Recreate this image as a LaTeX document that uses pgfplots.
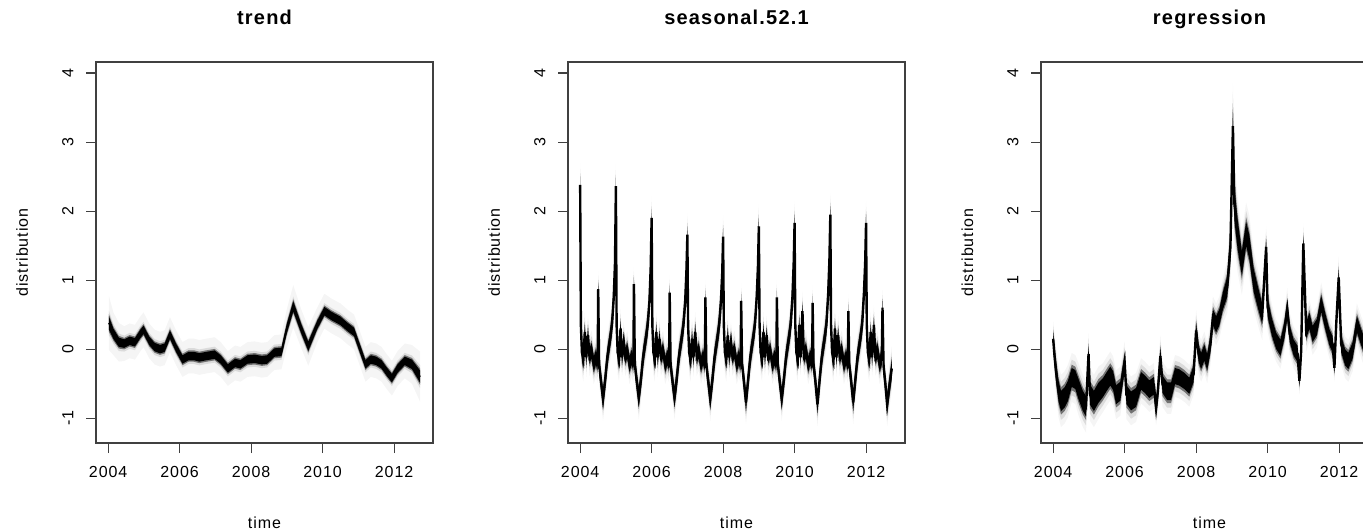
\documentclass[border=0pt]{standalone}
\usepackage{fontspec}
\setmainfont{Liberation Sans}[LetterSpace=6]
\usepackage{pgfplots}
\pgfplotsset{compat=1.18}
\usepackage{pgfplotstable}
\usepgfplotslibrary{fillbetween}

\pgfplotstableread{
t m w
2004.02 0.38 0.14
2004.15 0.22 0.11
2004.30 0.10 0.10
2004.45 0.08 0.09
2004.60 0.12 0.09
2004.75 0.10 0.09
2004.90 0.22 0.09
2004.99 0.28 0.09
2005.15 0.12 0.09
2005.30 0.03 0.09
2005.45 0.00 0.09
2005.58 0.02 0.09
2005.73 0.21 0.09
2005.90 0.02 0.09
2006.08 -0.15 0.09
2006.25 -0.10 0.09
2006.40 -0.10 0.09
2006.55 -0.12 0.09
2006.75 -0.10 0.09
2006.98 -0.08 0.09
2007.15 -0.15 0.09
2007.35 -0.28 0.09
2007.55 -0.20 0.09
2007.70 -0.22 0.09
2007.90 -0.15 0.09
2008.10 -0.14 0.09
2008.30 -0.16 0.09
2008.45 -0.15 0.09
2008.65 -0.05 0.09
2008.85 -0.04 0.09
2009.00 0.30 0.10
2009.18 0.62 0.11
2009.40 0.30 0.10
2009.60 0.04 0.10
2009.85 0.35 0.09
2010.05 0.55 0.09
2010.25 0.48 0.09
2010.50 0.41 0.09
2010.70 0.32 0.09
2010.88 0.25 0.09
2011.05 0.00 0.09
2011.20 -0.22 0.09
2011.35 -0.15 0.09
2011.50 -0.17 0.09
2011.65 -0.22 0.09
2011.80 -0.33 0.09
2011.94 -0.42 0.09
2012.10 -0.28 0.09
2012.30 -0.17 0.09
2012.50 -0.22 0.10
2012.73 -0.40 0.13
}\trendtbl

\pgfplotstableread{
t m w
2004.000 2.38 0.10
2004.020 0.35 0.10
2004.050 -0.05 0.10
2004.090 -0.15 0.10
2004.130 0.25 0.09
2004.170 -0.12 0.09
2004.220 0.20 0.09
2004.260 -0.10 0.09
2004.320 -0.02 0.09
2004.380 -0.22 0.09
2004.440 -0.12 0.09
2004.490 -0.20 0.09
2004.505 0.87 0.08
2004.530 -0.22 0.09
2004.580 -0.45 0.09
2004.640 -0.72 0.10
2004.700 -0.45 0.10
2004.760 -0.12 0.10
2004.830 0.12 0.10
2004.890 0.35 0.11
2004.940 0.75 0.12
2004.975 1.25 0.13
2005.000 2.36 0.10
2005.020 0.35 0.10
2005.050 -0.05 0.10
2005.090 -0.15 0.10
2005.130 0.30 0.09
2005.170 -0.12 0.09
2005.220 0.10 0.09
2005.260 -0.10 0.09
2005.320 -0.02 0.09
2005.380 -0.22 0.09
2005.440 -0.12 0.09
2005.490 -0.20 0.09
2005.505 0.94 0.08
2005.530 -0.22 0.09
2005.580 -0.45 0.09
2005.640 -0.70 0.10
2005.700 -0.45 0.10
2005.760 -0.12 0.10
2005.830 0.12 0.10
2005.890 0.35 0.11
2005.940 0.70 0.12
2005.975 1.20 0.13
2006.000 1.90 0.10
2006.020 0.35 0.10
2006.050 -0.05 0.10
2006.090 -0.15 0.10
2006.130 0.25 0.09
2006.170 -0.12 0.09
2006.220 0.15 0.09
2006.260 -0.10 0.09
2006.320 -0.02 0.09
2006.380 -0.22 0.09
2006.440 -0.12 0.09
2006.490 -0.20 0.09
2006.505 0.82 0.08
2006.530 -0.22 0.09
2006.580 -0.45 0.09
2006.640 -0.70 0.10
2006.700 -0.45 0.10
2006.760 -0.12 0.10
2006.830 0.12 0.10
2006.890 0.35 0.11
2006.940 0.70 0.12
2006.975 1.15 0.13
2007.000 1.66 0.10
2007.020 0.35 0.10
2007.050 -0.05 0.10
2007.090 -0.15 0.10
2007.130 0.15 0.09
2007.170 -0.12 0.09
2007.220 0.25 0.09
2007.260 -0.10 0.09
2007.320 -0.02 0.09
2007.380 -0.22 0.09
2007.440 -0.12 0.09
2007.490 -0.20 0.09
2007.505 0.75 0.08
2007.530 -0.22 0.09
2007.580 -0.45 0.09
2007.640 -0.72 0.10
2007.700 -0.45 0.10
2007.760 -0.12 0.10
2007.830 0.12 0.10
2007.890 0.35 0.11
2007.940 0.70 0.12
2007.975 1.10 0.13
2008.000 1.63 0.10
2008.020 0.35 0.10
2008.050 -0.05 0.10
2008.090 -0.15 0.10
2008.130 0.20 0.09
2008.170 -0.12 0.09
2008.220 0.10 0.09
2008.260 -0.10 0.09
2008.320 -0.02 0.09
2008.380 -0.22 0.09
2008.440 -0.12 0.09
2008.490 -0.20 0.09
2008.505 0.70 0.08
2008.530 -0.22 0.09
2008.580 -0.45 0.09
2008.640 -0.77 0.10
2008.700 -0.45 0.10
2008.760 -0.12 0.10
2008.830 0.12 0.10
2008.890 0.35 0.11
2008.940 0.75 0.12
2008.975 1.20 0.13
2009.000 1.78 0.10
2009.020 0.35 0.10
2009.050 -0.05 0.10
2009.090 -0.15 0.10
2009.130 0.25 0.09
2009.170 -0.12 0.09
2009.220 0.20 0.09
2009.260 -0.10 0.09
2009.320 -0.02 0.09
2009.380 -0.22 0.09
2009.440 -0.12 0.09
2009.490 -0.20 0.09
2009.505 0.75 0.08
2009.530 -0.22 0.09
2009.580 -0.45 0.09
2009.640 -0.72 0.10
2009.700 -0.45 0.10
2009.760 -0.12 0.10
2009.830 0.12 0.10
2009.890 0.35 0.11
2009.940 0.75 0.12
2009.975 1.25 0.13
2010.000 1.83 0.10
2010.020 0.35 0.10
2010.050 -0.05 0.10
2010.090 -0.15 0.10
2010.130 0.35 0.09
2010.170 -0.12 0.09
2010.220 0.55 0.09
2010.260 -0.10 0.09
2010.320 -0.02 0.09
2010.380 -0.22 0.09
2010.440 -0.12 0.09
2010.490 -0.20 0.09
2010.505 0.67 0.08
2010.530 -0.22 0.09
2010.580 -0.45 0.09
2010.640 -0.80 0.10
2010.700 -0.45 0.10
2010.760 -0.12 0.10
2010.830 0.12 0.10
2010.890 0.35 0.11
2010.940 0.80 0.12
2010.975 1.30 0.13
2011.000 1.95 0.10
2011.020 0.35 0.10
2011.050 -0.05 0.10
2011.090 -0.15 0.10
2011.130 0.30 0.09
2011.170 -0.12 0.09
2011.220 0.20 0.09
2011.260 -0.10 0.09
2011.320 -0.02 0.09
2011.380 -0.22 0.09
2011.440 -0.12 0.09
2011.490 -0.20 0.09
2011.505 0.55 0.08
2011.530 -0.22 0.09
2011.580 -0.45 0.09
2011.640 -0.77 0.10
2011.700 -0.45 0.10
2011.760 -0.12 0.10
2011.830 0.12 0.10
2011.890 0.35 0.11
2011.940 0.80 0.12
2011.975 1.25 0.13
2012.000 1.83 0.10
2012.020 0.35 0.10
2012.050 -0.05 0.10
2012.090 -0.15 0.10
2012.130 0.25 0.09
2012.170 -0.12 0.09
2012.220 0.35 0.09
2012.260 -0.10 0.09
2012.320 -0.02 0.09
2012.380 -0.22 0.09
2012.440 -0.12 0.09
2012.460 0.60 0.08
2012.490 -0.25 0.09
2012.540 -0.50 0.09
2012.590 -0.80 0.10
2012.650 -0.55 0.10
2012.720 -0.28 0.10
}\seasontbl

\pgfplotstableread{
t m w
2004.00 0.15 0.10
2004.03 -0.05 0.12
2004.08 -0.32 0.14
2004.15 -0.61 0.15
2004.22 -0.75 0.15
2004.32 -0.70 0.15
2004.41 -0.61 0.15
2004.52 -0.41 0.14
2004.62 -0.44 0.14
2004.71 -0.58 0.15
2004.83 -0.75 0.15
2004.92 -0.83 0.15
2004.99 -0.07 0.12
2005.03 -0.66 0.15
2005.14 -0.75 0.15
2005.27 -0.63 0.15
2005.39 -0.56 0.14
2005.51 -0.46 0.14
2005.60 -0.39 0.14
2005.68 -0.46 0.14
2005.76 -0.66 0.14
2005.88 -0.61 0.14
2006.00 -0.19 0.12
2006.05 -0.66 0.14
2006.18 -0.75 0.14
2006.32 -0.70 0.14
2006.46 -0.46 0.13
2006.57 -0.51 0.13
2006.69 -0.58 0.13
2006.82 -0.53 0.13
2006.88 -0.85 0.10
2006.93 -0.61 0.13
2007.00 -0.10 0.12
2007.06 -0.51 0.13
2007.19 -0.61 0.13
2007.30 -0.61 0.13
2007.41 -0.39 0.12
2007.53 -0.41 0.12
2007.67 -0.46 0.12
2007.81 -0.53 0.12
2007.93 -0.36 0.12
2008.00 0.27 0.12
2008.07 -0.07 0.12
2008.14 -0.17 0.12
2008.23 -0.05 0.12
2008.31 -0.19 0.12
2008.40 0.07 0.12
2008.47 0.46 0.12
2008.56 0.36 0.12
2008.65 0.46 0.12
2008.75 0.70 0.13
2008.87 0.90 0.15
2008.96 1.48 0.20
2009.03 3.23 0.25
2009.07 2.11 0.25
2009.16 1.67 0.22
2009.28 1.24 0.18
2009.40 1.67 0.18
2009.49 1.48 0.18
2009.61 1.00 0.17
2009.73 0.75 0.16
2009.85 0.51 0.15
2009.96 1.48 0.12
2010.00 0.61 0.14
2010.12 0.32 0.13
2010.24 0.12 0.12
2010.36 0.02 0.12
2010.47 0.27 0.12
2010.55 0.58 0.12
2010.62 0.22 0.12
2010.73 0.02 0.12
2010.84 -0.07 0.12
2010.89 -0.46 0.08
2010.94 -0.02 0.12
2011.00 1.53 0.12
2011.08 0.27 0.12
2011.17 0.41 0.12
2011.26 0.22 0.12
2011.38 0.32 0.12
2011.50 0.66 0.12
2011.61 0.41 0.12
2011.73 0.17 0.12
2011.82 0.07 0.12
2011.87 -0.27 0.08
2011.92 0.36 0.12
2011.99 1.04 0.12
2012.06 0.07 0.12
2012.17 -0.12 0.12
2012.26 -0.17 0.12
2012.38 -0.02 0.12
2012.50 0.36 0.12
2012.62 0.17 0.12
2012.73 0.02 0.12
}\regtbl

% #1 table, #2 factor on w, #3 fill colour, #4 path id
\newcommand{\band}[4]{%
  \addplot[draw=none, forget plot, name path=u#4] table[x=t, y expr={\thisrow{m}+#2*\thisrow{w}}] {#1};
  \addplot[draw=none, forget plot, name path=l#4] table[x=t, y expr={\thisrow{m}-#2*\thisrow{w}}] {#1};
  \addplot[fill=#3, draw=none, forget plot] fill between[of=u#4 and l#4];
}
% #1 table, #2 outer factor, #3 scale of w, #4 width of median line
\newcommand{\distplot}[4]{%
  \band{#1}{#2*#3}{black!4}{a}
  \band{#1}{1.6*#3}{black!14}{b}
  \band{#1}{1.15*#3}{black!55}{c}
  \band{#1}{0.85*#3}{black}{d}
  \addplot[black, line width=#4, line join=miter, forget plot] table[x=t, y=m] {#1};
}

\pgfplotsset{rstyle/.style={
  scale only axis, width=337pt, height=381pt,
  anchor=south west,
  xmin=2003.66, xmax=2013.09, ymin=-1.36, ymax=4.16,
  xtick={2004,2006,2008,2010,2012}, xticklabels={2004,2006,2008,2010,2012},
  ytick={-1,0,1,2,3,4}, yticklabels={-1,0,1,2,3,4},
  tick pos=left, tick align=outside, major tick length=10pt, minor tick num=0,
  axis line style={black!75, line width=1.3pt},
  every tick/.style={black!75, line width=1.1pt},
  tick label style={font=\fontsize{16}{19}\selectfont},
  xticklabel style={anchor=base},
  xticklabel shift=24pt,
  yticklabel style={rotate=90, anchor=base},
  yticklabel shift=12.7pt,
  label style={font=\fontsize{16}{19}\selectfont},
  xlabel={time}, ylabel={distribution},
  xlabel style={at={(axis description cs:0.5,-0.2257)}, anchor=base},
  ylabel style={at={(axis description cs:-0.2018,0.5)}, anchor=base},
  title style={at={(axis description cs:0.5,1.0814)}, anchor=base, font=\fontsize{20}{24}\selectfont\bfseries},
}}

\begin{document}
\begin{tikzpicture}[x=1pt,y=1pt]
\begin{axis}[rstyle, at={(96pt,88pt)}, title={trend}]
  \distplot{\trendtbl}{3.5}{0.8}{1.5pt}
\end{axis}
\begin{axis}[rstyle, at={(568pt,88pt)}, title={seasonal.52.1}]
  \distplot{\seasontbl}{2.2}{1.45}{2.4pt}
\end{axis}
\begin{axis}[rstyle, at={(1041pt,88pt)}, title={regression}]
  \distplot{\regtbl}{2.2}{1.15}{2.4pt}
\end{axis}
\pgfresetboundingbox
\path[use as bounding box] (0,0) rectangle (1363,531);
\end{tikzpicture}
\end{document}
